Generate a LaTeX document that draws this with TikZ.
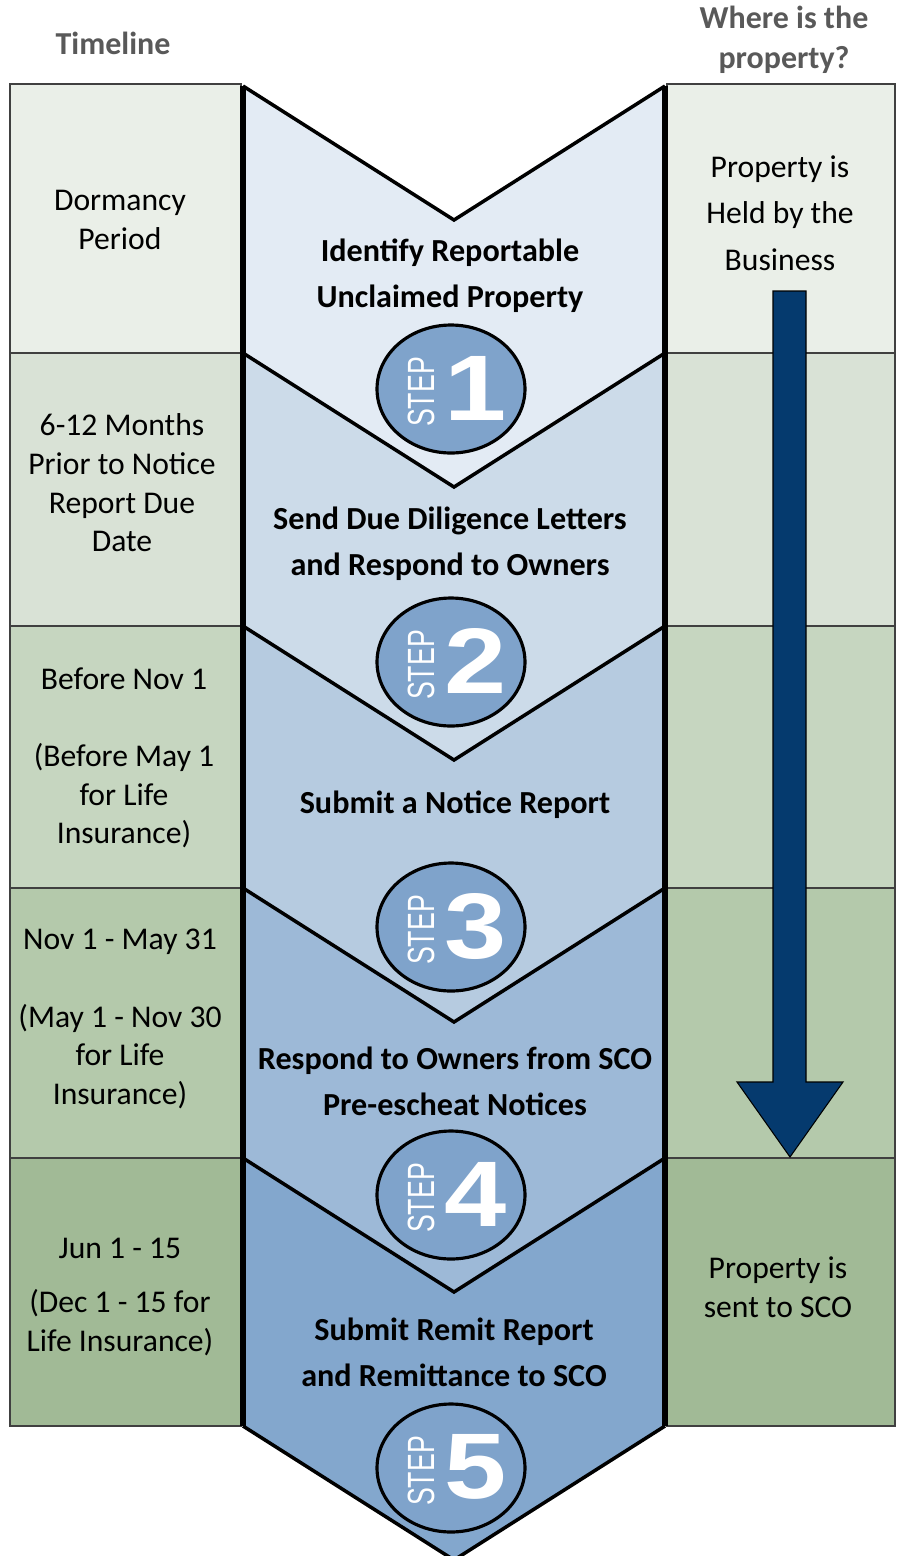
\documentclass[tikz,border=0pt]{standalone}
\usepackage{fontspec}
\setmainfont{Carlito}
\newfontfamily\badgefont{Liberation Sans}
\usetikzlibrary{shapes.geometric}

\definecolor{rowA}{HTML}{EAEFE8}
\definecolor{rowB}{HTML}{D9E2D6}
\definecolor{rowC}{HTML}{C6D6C0}
\definecolor{rowD}{HTML}{B4C9AB}
\definecolor{rowE}{HTML}{A1BA96}
\definecolor{chevA}{HTML}{E3EBF4}
\definecolor{chevB}{HTML}{CCDBE9}
\definecolor{chevC}{HTML}{B6CBE0}
\definecolor{chevD}{HTML}{9DB9D7}
\definecolor{chevE}{HTML}{83A7CD}
\definecolor{badgeblue}{HTML}{7FA3CB}
\definecolor{navy}{HTML}{053A6E}
\definecolor{headgray}{HTML}{595959}

\begin{document}
\begin{tikzpicture}[x=0.02cm,y=-0.02cm,
    every node/.style={inner sep=0pt},
    cell/.style={draw=black!75,line width=0.9pt},
    vline/.style={line width=2pt,line join=miter},
    side/.style={line width=3pt},
    head/.style={align=center,text=headgray,font=\fontsize{18.2}{22.7}\selectfont\bfseries},
    when/.style={align=center,font=\fontsize{18}{22}\selectfont},
    where/.style={align=center,font=\fontsize{18}{26.4}\selectfont},
    task/.style={align=center,font=\fontsize{18.3}{26}\selectfont\bfseries},
    badge/.style={ellipse,draw,line width=1.8pt,fill=badgeblue,
      minimum width=2.96cm,minimum height=2.56cm},
    steptag/.style={rotate=90,text=white,font=\badgefont\fontsize{15.2}{16}\selectfont},
    stepnum/.style={text=white,font=\badgefont\bfseries\fontsize{53}{54}\selectfont}]
  \useasboundingbox (0,0) rectangle (900,1556);

  \node[head] (timeline) at (113,43) {Timeline};
  \node[head] (location) at (784,40) {Where is the\\property?};

  % timeline and location columns
  \foreach \top/\bot/\col in {84/353/rowA,353/626/rowB,626/888/rowC,
      888/1158/rowD,1158/1426/rowE}{
    \draw[cell,fill=\col] (10,\top) rectangle (241,\bot);
    \draw[cell,fill=\col] (667,\top) rectangle (895,\bot);
  }

  % chevrons
  \foreach \top/\bot/\col in {86/353/chevA,353/626/chevB,626/888/chevC,
      888/1158/chevD,1158/1426/chevE}{
    \fill[\col] (243,\top) -- (454,{\top+134}) -- (665,\top) -- (665,\bot)
      -- (454,{\bot+134}) -- (243,\bot) -- cycle;
  }
  \foreach \y in {86,353,626,888,1158,1426}
    \draw[vline] (243,\y) -- (454,{\y+134}) -- (665,\y);
  \draw[side] (243,86) -- (243,1426);
  \draw[side] (665,86) -- (665,1426);

  % property moves to SCO
  \draw[fill=navy,line width=0.6pt,line join=miter]
    (773,291) -- (773,1082) -- (737,1082) -- (790,1157)
    -- (843,1082) -- (806,1082) -- (806,291) -- cycle;

  % step badges
  \foreach \n/\y in {1/389,2/662,3/927,4/1195,5/1468}{
    \node[badge] (step\n) at (451,\y) {};
    \node[steptag] (tag\n) at (421,{\y+3}) {\scalebox{1}[1.42]{STEP}};
    \node[stepnum] (num\n) at (476,{\y-1}) {\scalebox{1.2}[1]{\n}};
  }

  \node[when] (dormancy) at (120,220) {Dormancy\\Period};
  \node[when] (prior) at (122,483) {6-12 Months\\Prior to Notice\\Report Due\\Date};
  \node[when] (notice) at (124,758) {Before Nov 1\\[22pt](Before May 1\\for Life\\Insurance)};
  \node[when] (escheat) at (120,1019) {Nov 1 - May 31\\[22pt](May 1 - Nov 30\\for Life\\Insurance)};
  \node[when] (remit) at (120,1297) {Jun 1 - 15\\[9pt](Dec 1 - 15 for\\Life Insurance)};

  \node[where] (held) at (780,213) {Property is\\Held by the\\Business};
  \node[when] (sent) at (778,1287) {Property is\\sent to SCO};

  \node[task] (identify) at (450,276) {Identify Reportable\\Unclaimed Property};
  \node[task] (letters) at (450,544) {Send Due Diligence Letters\\and Respond to Owners};
  \node[task] (report) at (455,805) {Submit a Notice Report};
  \node[task] (respond) at (455,1081) {Respond to Owners from SCO\\Pre-escheat Notices};
  \node[task] (remittance) at (454,1352) {Submit Remit Report\\and Remittance to SCO};
\end{tikzpicture}
\end{document}
